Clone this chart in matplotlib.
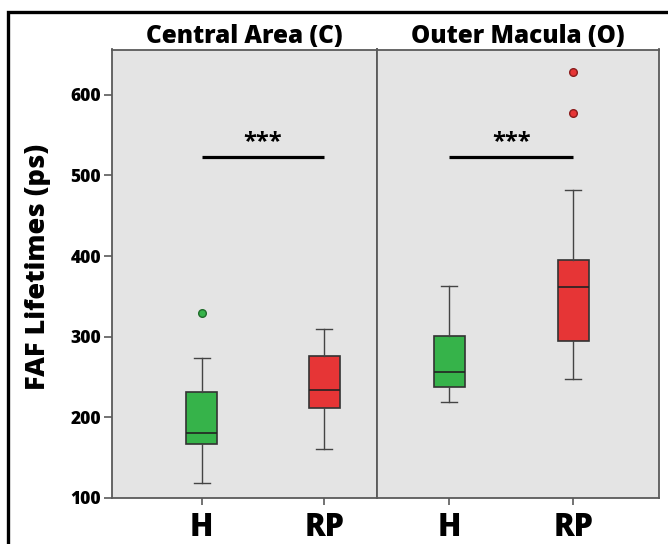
import matplotlib
matplotlib.use("Agg")
import matplotlib.pyplot as plt
from matplotlib.patches import Rectangle

# ---- data ----
panels = ["Central Area (C)", "Outer Macula (O)"]
groups = ["H", "RP"]
whislo = [[119, 161], [219, 247]]
q1 = [[167, 212], [237, 295]]
med = [[181, 234], [256, 361]]
q3 = [[232, 276], [301, 395]]
whishi = [[274, 309], [363, 482]]
fliers = [[[329], []], [[], [577, 628]]]
sig_level = [523, 523]
sig_text = ["***", "***"]
yticks = [100, 200, 300, 400, 500, 600]

colors = ["#36b34a", "#e63536"]
edge_cols = ["#1f6b2a", "#8a1c1c"]
bg = "#e4e4e4"
spine_col = "#5a5a5a"

plt.rcParams['font.family'] = ['Open Sans', 'DejaVu Sans']

W, H = 668, 544
fig = plt.figure(figsize=(W / 100, H / 100), dpi=100)

left_px, right_px, top_px, bot_px, div_px = 112, 659, 49.5, 498, 377
ax1 = fig.add_axes([left_px / W, 1 - bot_px / H, (div_px - left_px) / W, (bot_px - top_px) / H])
ax2 = fig.add_axes([div_px / W, 1 - bot_px / H, (right_px - div_px) / W, (bot_px - top_px) / H], sharey=ax1)
axes = [ax1, ax2]
xlims = [(-0.73, 1.43), (-0.58, 1.69)]

for i, ax in enumerate(axes):
    stats = []
    for j in range(2):
        stats.append(dict(med=med[i][j], q1=q1[i][j], q3=q3[i][j],
                          whislo=whislo[i][j], whishi=whishi[i][j],
                          fliers=fliers[i][j], label=groups[j]))
    bp = ax.bxp(stats, positions=[0, 1], widths=0.25, capwidths=0.13,
                patch_artist=True, showfliers=True,
                boxprops=dict(edgecolor="#333333", linewidth=1.2),
                medianprops=dict(color="#222222", linewidth=1.2),
                whiskerprops=dict(color="#444444", linewidth=1.0),
                capprops=dict(color="#444444", linewidth=1.0),
                flierprops=dict(marker='o', markersize=5.5))
    for j, patch in enumerate(bp['boxes']):
        patch.set_facecolor(colors[j])
    for j, fl in enumerate(bp['fliers']):
        fl.set_markerfacecolor(colors[j])
        fl.set_markeredgecolor(edge_cols[j])
        fl.set_markeredgewidth(1.0)

    ax.set_facecolor(bg)
    ax.set_xlim(*xlims[i])
    ax.set_ylim(100, 656)
    ax.set_xticks([0, 1])
    ax.set_xticklabels(groups, fontsize=22, fontweight='heavy')
    ax.tick_params(axis='x', length=5, width=1.2, color=spine_col, pad=5)
    for s in ax.spines.values():
        s.set_color(spine_col)
        s.set_linewidth(1.3)
    ax.set_title(panels[i], fontsize=17.5, fontweight='heavy', pad=5)

    # significance bar
    ax.plot([0, 1], [sig_level[i], sig_level[i]], color='black', lw=2.3, solid_capstyle='butt')
    ax.text(0.5, sig_level[i] + 3, sig_text[i], ha='center', va='bottom',
            fontsize=17, fontweight='bold')

ax1.set_yticks(yticks)
ax1.set_yticklabels([str(t) for t in yticks], fontsize=12.5, fontweight='heavy')
ax1.tick_params(axis='y', length=6, width=1.2, color=spine_col, pad=2)
ax2.tick_params(axis='y', left=False, labelleft=False)
ax1.set_ylabel("FAF Lifetimes (ps)", fontsize=19.5, fontweight='heavy')
ax1.yaxis.set_label_coords((51 - left_px) / (div_px - left_px), (bot_px - 266.5) / (bot_px - top_px))

# outer black frame (partly cut by the image edge)
fig.patches.append(Rectangle((8 / W, -0.05), 1.2, 1 - 12 / H + 0.05,
                             transform=fig.transFigure, fill=False,
                             edgecolor='black', linewidth=2.4, clip_on=False))

fig.savefig("out.png", dpi=100)
